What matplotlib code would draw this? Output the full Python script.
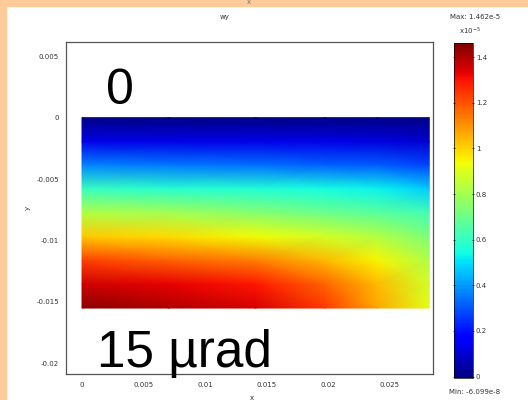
import numpy as np
import matplotlib.pyplot as plt
from matplotlib.patches import Rectangle

# grid of the sampled field (x, y in m), wy in units of 1e-5 rad
x_pts = [0.0, 0.00705, 0.0141, 0.01974, 0.02397, 0.0282]
y_pts = [0.0, -0.00194, -0.00388, -0.00581, -0.00775, -0.00969, -0.01163, -0.01356, -0.0155]
wy = [
    [0.00, 0.00, 0.00, 0.00, 0.00, 0.00],
    [0.13, 0.13, 0.13, 0.13, 0.12, 0.10],
    [0.37, 0.35, 0.34, 0.32, 0.31, 0.28],
    [0.61, 0.58, 0.57, 0.55, 0.53, 0.47],
    [0.82, 0.80, 0.75, 0.70, 0.67, 0.63],
    [1.02, 0.99, 0.94, 0.88, 0.83, 0.73],
    [1.23, 1.18, 1.13, 1.04, 0.95, 0.82],
    [1.36, 1.33, 1.29, 1.17, 1.04, 0.88],
    [1.45, 1.40, 1.35, 1.24, 1.07, 0.91],
]
wy_min = -6.099e-8
wy_max = 1.462e-5

x_ticks = [0, 0.005, 0.01, 0.015, 0.02, 0.025]
y_ticks = [0.005, 0, -0.005, -0.01, -0.015, -0.02]
cb_ticks = [0, 0.2, 0.4, 0.6, 0.8, 1.0, 1.2, 1.4]

fig = plt.figure(figsize=(5.28, 4.0), dpi=100)
fig.patch.set_facecolor("white")

# orange slide border
fig.patches.append(Rectangle((0, 1 - 6 / 400), 1, 6 / 400, transform=fig.transFigure,
                             color="#FFCC99", zorder=0))
fig.patches.append(Rectangle((0, 0), 6 / 528, 1, transform=fig.transFigure,
                             color="#FFCC99", zorder=0))

ax = fig.add_axes([0.125, 0.065, 0.695, 0.83])
X, Y = np.meshgrid(x_pts, y_pts)
Z = np.array(wy) * 1e-5
mesh = ax.pcolormesh(X, Y, Z, shading="gouraud", cmap="jet", vmin=wy_min, vmax=wy_max)

ax.set_xlim(-0.0013, 0.0285)
ax.set_ylim(-0.02087, 0.00616)
ax.set_xticks(x_ticks)
ax.set_xticklabels(["0", "0.005", "0.01", "0.015", "0.02", "0.025"])
ax.set_yticks(y_ticks)
ax.set_yticklabels(["0.005", "0", "-0.005", "-0.01", "-0.015", "-0.02"])
ax.tick_params(length=0, labelsize=5, labelcolor="#333333")
ax.tick_params(axis="x", pad=6)
ax.tick_params(axis="y", pad=5)
for s in ax.spines.values():
    s.set_color("#555555")
    s.set_linewidth(0.9)

fig.text(225 / 528, 1 - 17 / 400, "wy", fontsize=5, color="#333333", ha="center", va="center")
fig.text(28 / 528, 1 - 208 / 400, "y", fontsize=5, color="#333333", ha="center", va="center",
         rotation=90)
fig.text(252 / 528, 1 - 398 / 400, "x", fontsize=5, color="#333333", ha="center", va="center")
fig.text(249 / 528, 1 - 2 / 400, "x", fontsize=5, color="#777777", ha="center", va="center")

# colorbar
cax = fig.add_axes([0.860, 0.055, 0.036, 0.8375])
cb = fig.colorbar(mesh, cax=cax)
cb.set_ticks([t * 1e-5 for t in cb_ticks])
cb.set_ticklabels(["0", "0.2", "0.4", "0.6", "0.8", "1", "1.2", "1.4"])
cax.tick_params(labelsize=5, labelcolor="#333333", length=2, width=0.5, pad=1,
                left=True, direction="inout")
cb.outline.set_linewidth(0.5)

fig.text(475 / 528, 1 - 17 / 400, "Max: 1.462e-5", fontsize=5, color="#333333",
         ha="center", va="center")
fig.text(470 / 528, 1 - 31 / 400, r"x10$^{-5}$", fontsize=5, color="#333333",
         ha="center", va="center")
fig.text(475 / 528, 1 - 392 / 400, "Min: -6.099e-8", fontsize=5, color="#333333",
         ha="center", va="center")

# annotations
fig.text(106 / 528, 1 - 104 / 400, "0", fontsize=36, family="Liberation Sans",
         ha="left", va="baseline")
fig.text(97 / 528, 1 - 367 / 400, "15 µrad", fontsize=37, family="Liberation Sans",
         ha="left", va="baseline")

fig.savefig("out.png", dpi=100)
